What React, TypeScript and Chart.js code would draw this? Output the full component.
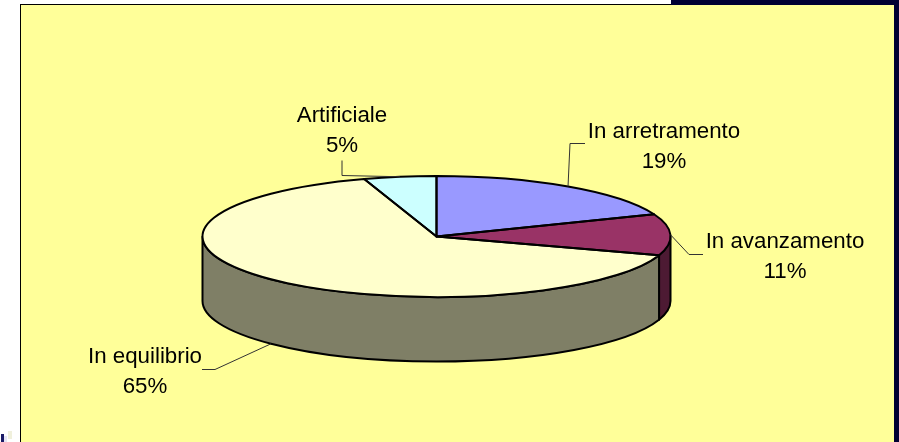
import React, { useEffect, useRef } from "react";
import { Chart, registerables } from "chart.js";

Chart.register(...registerables);

const categories = ["In arretramento", "In avanzamento", "In equilibrio", "Artificiale"];
const shares = [19, 11, 65, 5];
const topColors = ["#9999FF", "#993366", "#FFFFCC", "#CCFFFF"];
const sideColors = ["#4D4D80", "#4D1A33", "#7F7F66", "#668080"];

const PIE = { cx: 436.5, cy: 236.5, rx: 234, ry: 60.5, depth: 64.5 };
const labelPos = [
  { x: 664, y: 132, path: [[585, 143], [570, 143]], onSide: false },
  { x: 785, y: 242, path: [[703, 254], [689, 254]], onSide: false },
  { x: 145, y: 356.5, path: [[202, 369], [215, 369]], onSide: true },
  { x: 342, y: 116, path: [[342, 160], [342, 175]], onSide: false },
];

const piePlugin = {
  id: "pie3d",
  beforeDraw(chart: any) {
    const { ctx, width, height } = chart;
    ctx.save();
    ctx.fillStyle = "#FFFFFF";
    ctx.fillRect(0, 0, width, height);
    ctx.fillStyle = "#000033";
    ctx.fillRect(671, 0, width - 671, 6);
    ctx.fillRect(894, 0, 5, height);
    ctx.fillStyle = "#FFFF99";
    ctx.fillRect(21, 5, 873, height - 5);
    ctx.fillStyle = "#000000";
    ctx.fillRect(20, 4, 1, height - 4);
    ctx.fillRect(20, 4, 651, 1);
    ctx.fillStyle = "#1A1A66";
    ctx.fillRect(1, 434, 3, 8);
    ctx.fillStyle = "#E6E6F5";
    ctx.fillRect(4, 436, 3, 6);
    ctx.fillStyle = "#F0F0DC";
    ctx.fillRect(8, 431, 4, 8);
    ctx.restore();
  },
  beforeDatasetsDraw(chart: any) {
    const { ctx } = chart;
    const arcs = chart.getDatasetMeta(0).data;
    const { cx, cy, rx, ry, depth } = PIE;
    ctx.save();
    ctx.lineWidth = 2;
    ctx.strokeStyle = "#000000";
    ctx.lineJoin = "round";
    arcs.forEach((arc: any, i: number) => {
      const a0 = arc.startAngle;
      const a1 = arc.endAngle;
      for (const shift of [0, Math.PI * 2]) {
        const s = Math.max(a0 - shift, 0);
        const e = Math.min(a1 - shift, Math.PI);
        if (e <= s) continue;
        ctx.beginPath();
        ctx.ellipse(cx, cy, rx, ry, 0, s, e);
        ctx.lineTo(cx + rx * Math.cos(e), cy + ry * Math.sin(e) + depth);
        ctx.ellipse(cx, cy + depth, rx, ry, 0, e, s, true);
        ctx.closePath();
        ctx.fillStyle = sideColors[i];
        ctx.fill();
        ctx.stroke();
      }
    });
    ctx.restore();
    const r = arcs[0].outerRadius;
    ctx.save();
    ctx.translate(cx, cy);
    ctx.scale(rx / r, ry / r);
    ctx.translate(-arcs[0].x, -arcs[0].y);
  },
  afterDatasetsDraw(chart: any) {
    const { ctx } = chart;
    ctx.restore();
    const arcs = chart.getDatasetMeta(0).data;
    const { cx, cy, rx, ry, depth } = PIE;
    ctx.save();
    ctx.lineWidth = 2;
    ctx.strokeStyle = "#000000";
    ctx.lineJoin = "round";
    arcs.forEach((arc: any) => {
      ctx.beginPath();
      ctx.moveTo(cx, cy);
      ctx.ellipse(cx, cy, rx, ry, 0, arc.startAngle, arc.endAngle);
      ctx.closePath();
      ctx.stroke();
    });
    ctx.restore();

    ctx.save();
    ctx.textAlign = "center";
    ctx.textBaseline = "middle";
    ctx.font = '22.3px "Liberation Sans"';
    arcs.forEach((arc: any, i: number) => {
      const mid = (arc.startAngle + arc.endAngle) / 2;
      const ax = cx + rx * Math.cos(mid);
      const ay = cy + ry * Math.sin(mid) + (labelPos[i].onSide ? depth : 0);
      const p = labelPos[i];
      ctx.strokeStyle = "#333333";
      ctx.lineWidth = 1;
      ctx.beginPath();
      ctx.moveTo(p.path[0][0], p.path[0][1] + 0.5);
      ctx.lineTo(p.path[1][0], p.path[1][1] + 0.5);
      ctx.lineTo(ax, ay);
      ctx.stroke();
      ctx.fillStyle = "#000000";
      ctx.fillText(categories[i], p.x, p.y);
      ctx.fillText(shares[i] + "%", p.x, p.y + 30);
    });
    ctx.restore();
  },
};

export default function App() {
  const ref = useRef<HTMLCanvasElement>(null);
  useEffect(() => {
    const chart = new Chart(ref.current as HTMLCanvasElement, {
      type: "pie",
      data: {
        labels: categories,
        datasets: [
          {
            data: shares,
            backgroundColor: topColors,
            borderWidth: 0,
            clip: false,
          } as any,
        ],
      },
      options: {
        responsive: false,
        animation: false,
        rotation: 0,
        layout: { padding: 0 },
        plugins: { legend: { display: false }, tooltip: { enabled: false } },
      },
      plugins: [piePlugin],
    });
    return () => chart.destroy();
  }, []);
  return (
    <div style={{ position: "fixed", left: 0, top: 0 }}>
      <canvas ref={ref} width={899} height={442} style={{ display: "block" }} />
    </div>
  );
}
